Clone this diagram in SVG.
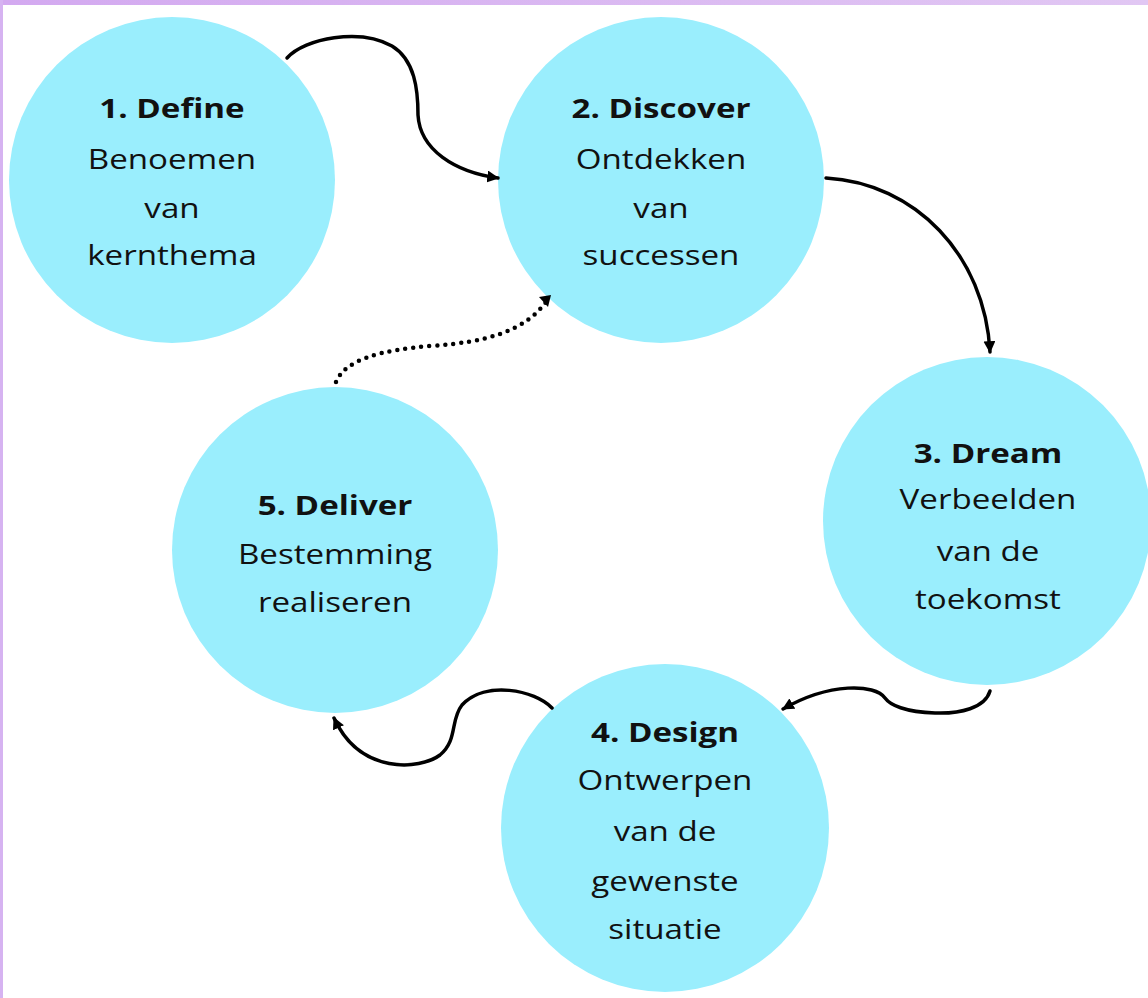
<svg xmlns="http://www.w3.org/2000/svg" width="1148" height="998" viewBox="0 0 1148 998">
<defs>
<linearGradient id="bar" x1="0" y1="0" x2="1" y2="0">
<stop offset="0" stop-color="#d3a9f0"/>
<stop offset="1" stop-color="#e1c7f3"/>
</linearGradient>
<marker id="ah" viewBox="0 0 10 10" refX="9" refY="5" markerWidth="12" markerHeight="12" markerUnits="userSpaceOnUse" orient="auto">
<path d="M0,0 L10,5 L0,10 Z" fill="#000"/>
</marker>
<style>
.node circle{fill:#9aeefd}
.t{font-family:"Open Sans","Noto Sans",sans-serif;font-size:26.5px;fill:#111;text-anchor:middle;font-variant-ligatures:none}
.b{font-weight:bold}
.c{fill:none;stroke:#000;stroke-width:3.5;stroke-linecap:round}
.d{fill:none;stroke:#000;stroke-width:4.5;stroke-linecap:round;stroke-dasharray:0 8}
</style>
</defs>
<rect x="0" y="0" width="1148" height="998" fill="#fff"/>
<rect x="0" y="0" width="1148" height="5" fill="url(#bar)"/>
<rect x="0" y="0" width="3" height="998" fill="#d6b3f1"/>

<g id="n1" class="node">
<circle cx="172" cy="180" r="163"/>
<g transform="matrix(1.25 0 0 1 -43 0)">
<text class="t b" x="172" y="118">1. Define</text>
<text class="t" x="172" y="169">Benoemen</text>
<text class="t" x="172" y="218">van</text>
<text class="t" x="172" y="265">kernthema</text>
</g>
</g>
<g id="n2" class="node">
<circle cx="661" cy="180" r="163"/>
<g transform="matrix(1.25 0 0 1 -165.25 0)">
<text class="t b" x="661" y="118">2. Discover</text>
<text class="t" x="661" y="169">Ontdekken</text>
<text class="t" x="661" y="218">van</text>
<text class="t" x="661" y="265">successen</text>
</g>
</g>
<g id="n3" class="node">
<circle cx="987" cy="521" r="164"/>
<g transform="matrix(1.25 0 0 1 -247 0)">
<text class="t b" x="988" y="463">3. Dream</text>
<text class="t" x="988" y="509">Verbeelden</text>
<text class="t" x="988" y="561">van de</text>
<text class="t" x="988" y="609">toekomst</text>
</g>
</g>
<g id="n4" class="node">
<circle cx="665" cy="828" r="164"/>
<g transform="matrix(1.25 0 0 1 -166.25 0)">
<text class="t b" x="665" y="742">4. Design</text>
<text class="t" x="665" y="790">Ontwerpen</text>
<text class="t" x="665" y="841">van de</text>
<text class="t" x="665" y="891">gewenste</text>
<text class="t" x="665" y="939">situatie</text>
</g>
</g>
<g id="n5" class="node">
<circle cx="335" cy="550" r="163"/>
<g transform="matrix(1.25 0 0 1 -83.75 0)">
<text class="t b" x="335" y="515">5. Deliver</text>
<text class="t" x="335" y="564">Bestemming</text>
<text class="t" x="335" y="612">realiseren</text>
</g>
</g>

<g id="connectors">
<path class="c" d="M287,58 C305,38 360,28 392,46 C415,60 418,90 418,115 C420,150 455,172 498,178" marker-end="url(#ah)"/>
<path class="c" d="M826,178 C915,183 985,255 990,352" marker-end="url(#ah)"/>
<path class="c" d="M990,691 C985,708 960,714 935,713 C905,712 890,705 885,698 C875,684 830,682 783,709" marker-end="url(#ah)"/>
<path class="c" d="M552,708 C535,690 485,680 462,705 C450,720 458,740 440,755 C420,770 360,775 334,718" marker-end="url(#ah)"/>
<path class="d" d="M336,382 C345,360 380,350 430,346 C490,342 525,330 546,302"/>
<path d="M539,297 L551,295 L548,307 Z" fill="#000"/>
</g>
</svg>
